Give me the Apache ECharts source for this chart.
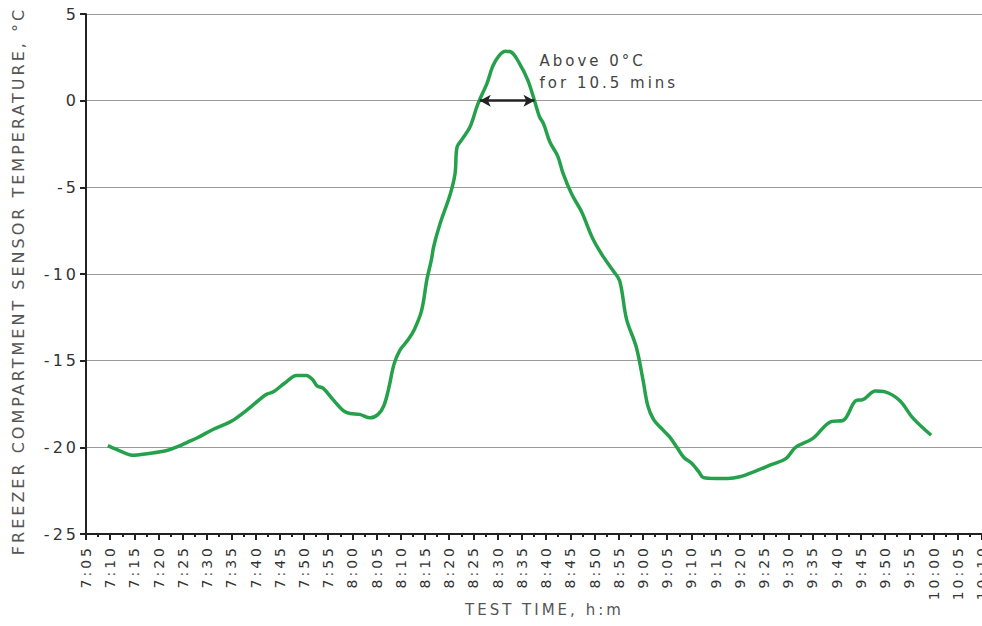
<!DOCTYPE html>
<html>
<head>
<meta charset="utf-8">
<script src="https://cdn.jsdelivr.net/npm/echarts@6/dist/echarts.min.js"></script>
<style>
html,body{margin:0;padding:0;background:#fff;}
#c{width:982px;height:626px;}
#c text{letter-spacing:3px;}
</style>
</head>
<body>
<div id="c"></div>
<script>
// Test time in minutes after midnight
var timeMin = [429.5,432,434.5,438,441.5,444,446,448,451,455,458.2,462.2,463.7,466,468.5,470.5,471.8,472.7,474,476,478.2,479.5,481.5,483.7,485.3,486.5,487.5,488.6,489.8,491.5,492.8,494.3,495.4,496.3,496.8,498.1,500.2,501.2,501.6,502.6,504.3,505.7,506.5,507.8,509.0,510.3,511.6,512.8,514.4,516.2,517.6,518.6,519.5,520.8,522.4,523.5,525.3,527.3,529.7,531.8,533.8,535.2,536.6,538.6,540.0,541.0,542.2,543.8,545.5,547.0,548.5,550.0,551.5,552.5,555.0,557.5,560.0,563.0,566.5,569.5,571.5,575.0,579.0,581.3,584.0,585.4,588.0,590.0,593.0,595.7,599.5];
// Freezer compartment sensor temperature, °C
var tempC = [-19.9,-20.2,-20.45,-20.35,-20.2,-19.95,-19.7,-19.45,-19.0,-18.5,-17.85,-16.95,-16.8,-16.3,-15.85,-15.85,-16.1,-16.45,-16.6,-17.25,-17.9,-18.05,-18.1,-18.3,-18.1,-17.6,-16.6,-15.2,-14.4,-13.8,-13.2,-12.1,-10.3,-9.2,-8.4,-7.1,-5.4,-4.2,-2.7,-2.25,-1.5,-0.35,0.2,1.0,2.0,2.6,2.85,2.8,2.2,1.2,0,-0.9,-1.35,-2.4,-3.2,-4.2,-5.4,-6.4,-8.0,-9.0,-9.8,-10.4,-12.6,-14.2,-16.1,-17.6,-18.4,-18.9,-19.4,-20.0,-20.6,-20.9,-21.4,-21.75,-21.8,-21.8,-21.7,-21.4,-21.0,-20.65,-20.0,-19.5,-18.5,-18.45,-17.3,-17.25,-16.75,-16.8,-17.3,-18.3,-19.3];
// Above-0 °C span (start, end in minutes) and annotation
var aboveZeroSpan = [506.3, 517.6];
var annotationLines = ['Above 0°C', 'for 10.5 mins'];
var yTitle = 'FREEZER COMPARTMENT SENSOR TEMPERATURE, °C';
var xTitle = 'TEST TIME, h:m';
// Axis ranges
var xRange = [425, 610];
var yRange = [-25, 5];

var seriesData = timeMin.map(function (t, i) { return [t, tempC[i]]; });
function fmtTime(v) {
  var h = Math.floor(v / 60), m = Math.round(v - h * 60);
  return h + ':' + (m < 10 ? '0' + m : m);
}

var chart = echarts.init(document.getElementById('c'), null, { renderer: 'svg' });
var font = 'DejaVu Sans, sans-serif';
chart.setOption({
  animation: false,
  backgroundColor: '#fff',
  grid: { left: 86, right: 0, top: 14, bottom: 92, containLabel: false, outerBoundsMode: 'none' },
  xAxis: {
    type: 'value', min: xRange[0], max: xRange[1], interval: 5,
    axisLine: { show: true, onZero: false, lineStyle: { color: '#222', width: 2 } },
    axisTick: { show: true, length: 6, lineStyle: { color: '#222', width: 2 } },
    minorTick: { show: true, splitNumber: 2, length: 3, lineStyle: { color: '#222', width: 2 } },
    splitLine: { show: false },
    axisLabel: { rotate: 90, margin: 11, color: '#333', fontSize: 14, fontFamily: font, formatter: fmtTime, showMaxLabel: true, hideOverlap: false }
  },
  yAxis: {
    type: 'value', min: yRange[0], max: yRange[1], interval: 5,
    axisLine: { show: true, lineStyle: { color: '#222', width: 2 } },
    axisTick: { show: true, length: 6, lineStyle: { color: '#222', width: 2 } },
    splitLine: { show: true, lineStyle: { color: '#9a9a9a', width: 1 } },
    axisLabel: { margin: 7, color: '#333', fontSize: 16, fontFamily: font }
  },
  series: [{
    type: 'line', data: seriesData, showSymbol: false, smooth: 0.35,
    lineStyle: { color: '#25a14c', width: 3.5 },
    markLine: {
      silent: true, symbol: ['arrow', 'arrow'], symbolSize: [9, 11],
      lineStyle: { color: '#222', width: 2.5, type: 'solid' },
      label: { show: false },
      data: [[{ coord: [aboveZeroSpan[0], 0] }, { coord: [aboveZeroSpan[1], 0] }]]
    }
  }]
});
var p = chart.convertToPixel({ gridIndex: 0 }, [aboveZeroSpan[1], 0]);
chart.setOption({
  graphic: [
    { type: 'text', x: p[0] + 5, y: p[1] - 51,
      style: { text: annotationLines.join('\n'), fill: '#444', font: '15px ' + font, lineHeight: 22 } },
    { type: 'text', x: 465, y: 602,
      style: { text: xTitle, fill: '#555', font: '15px ' + font } },
    { type: 'text', x: 18, y: 281, rotation: Math.PI / 2,
      style: { text: yTitle, fill: '#555', font: '16px ' + font, align: 'center', verticalAlign: 'middle' } }
  ]
});
</script>
</body>
</html>
